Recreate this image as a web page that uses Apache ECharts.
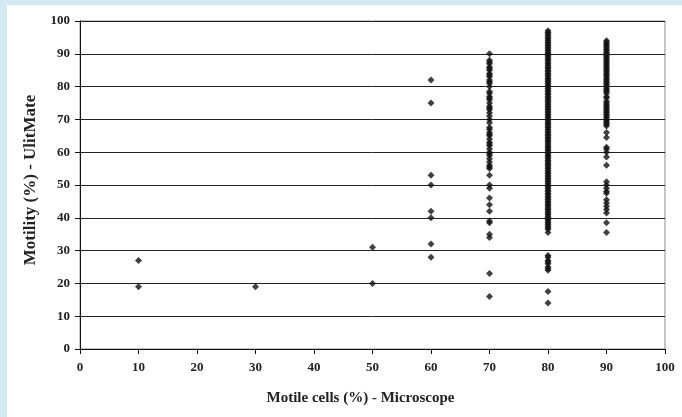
<!DOCTYPE html>
<html>
<head>
<meta charset="utf-8">
<script src="https://cdn.jsdelivr.net/npm/echarts@6/dist/echarts.min.js"></script>
<style>
html,body{margin:0;padding:0;background:#d4eaf2;}
#c{width:682px;height:417px;}
</style>
</head>
<body>
<div id="c"></div>
<script>
// Microscope motile cells (%) groups
const microscopeGroups = [10, 30, 50, 60, 70, 80, 90];
// UlitMate motility (%) readings for each group
const at10 = [27, 19];
const at30 = [19];
const at50 = [31, 20];
const at60 = [82, 75, 53, 50, 42, 40, 32, 28];
const at70 = [90, 88, 87.5, 87, 86, 85.5, 85, 84, 83.5, 83, 82, 81.5, 81, 80, 78.5, 78, 77, 76.5, 76, 75, 74, 73.5, 73, 72, 71, 70, 69, 67.5, 67, 66, 65.5, 65, 64, 63, 62.5, 62, 61, 60, 59.5, 59, 58, 57, 56, 55.5, 55, 53, 50, 49, 46, 44, 42, 39, 38.5, 35, 34, 23, 16];
const at80 = [97, 96.5, 96, 95.5, 95, 94.5, 94, 93.5, 93, 92.5, 92, 91.5, 91, 90.5, 90, 89.5, 89, 88.5, 88, 87.5, 87, 86.5, 86, 85.5, 85, 84.5, 84, 83.5, 83, 82.5, 82, 81.5, 81, 80.5, 80, 79.5, 79, 78.5, 78, 77.5, 77, 76.5, 76, 75.5, 75, 74.5, 74, 73.5, 73, 72.5, 72, 71.5, 71, 70.5, 70, 69.5, 69, 68.5, 68, 67.5, 67, 66.5, 66, 65.5, 65, 64.5, 64, 63.5, 63, 62.5, 62, 61.5, 61, 60.5, 60, 59.5, 59, 58.5, 58, 57.5, 57, 56.5, 56, 55.5, 55, 54.5, 54, 53.5, 53, 52.5, 52, 51.5, 51, 50.5, 50, 49.5, 49, 48.5, 48, 47.5, 47, 46.5, 46, 45.5, 45, 44.5, 44, 43.5, 43, 42.5, 42, 41.5, 41, 40.5, 40, 39.5, 39, 38.5, 38, 37.5, 37, 36.5, 35.5, 28.5, 28, 27, 26.5, 26, 25, 24.5, 24, 17.5, 14];
const at90 = [94, 93.5, 93, 92.5, 92, 91.5, 91, 90.5, 90, 89.5, 89, 88.5, 88, 87.5, 87, 86.5, 86, 85.5, 85, 84.5, 84, 83.5, 83, 82.5, 82, 81.5, 81, 80.5, 80, 79.5, 79, 78.5, 78, 77, 76.5, 75.5, 75, 74.5, 74, 73.5, 73, 72.5, 72, 71.5, 71, 70.5, 70, 69.5, 69, 68.5, 68, 66, 64.5, 61.5, 61, 60, 58.5, 56, 51, 50, 49, 48, 47.5, 45.5, 44.5, 43.5, 42.5, 41.5, 38.5, 35.5];
const groupValues = [at10, at30, at50, at60, at70, at80, at90];
const ticks = [0, 10, 20, 30, 40, 50, 60, 70, 80, 90, 100];

const points = [];
microscopeGroups.forEach((g, i) => groupValues[i].forEach(v => points.push([g, v])));

const chart = echarts.init(document.getElementById('c'));
const font = '"Liberation Serif", "Times New Roman", serif';
chart.setOption({
  backgroundColor: '#d4eaf2',
  animation: false,
  graphic: [{
    type: 'rect', z: -10, silent: true,
    shape: { x: 7, y: 5, width: 700, height: 420 },
    style: { fill: '#ffffff' }
  }],
  grid: { left: 80, right: 17, top: 21, bottom: 68, show: true, borderColor: '#8a8a8a', borderWidth: 1, backgroundColor: 'transparent' },
  xAxis: {
    type: 'value', min: ticks[0], max: ticks[ticks.length - 1], interval: 10,
    name: 'Motile cells (%) - Microscope', nameLocation: 'middle', nameGap: 42,
    nameTextStyle: { fontFamily: font, fontWeight: 'bold', fontSize: 15, color: '#222', padding: [0, 24, 0, 0] },
    axisLine: { lineStyle: { color: '#111', width: 1 } },
    axisTick: { show: true, length: 5, lineStyle: { color: '#111' } },
    axisLabel: { fontFamily: font, fontWeight: 'bold', fontSize: 13, color: '#222', margin: 12 },
    splitLine: { show: false }
  },
  yAxis: {
    type: 'value', min: ticks[0], max: ticks[ticks.length - 1], interval: 10,
    name: 'Motility (%) - UlitMate', nameLocation: 'middle', nameGap: 39, nameRotate: 90,
    nameTextStyle: { fontFamily: font, fontWeight: 'bold', fontSize: 17, color: '#222', padding: [0, 0, 0, 10] },
    axisLine: { show: true, lineStyle: { color: '#111', width: 1 } },
    axisTick: { show: true, length: 5, lineStyle: { color: '#111' } },
    axisLabel: { fontFamily: font, fontWeight: 'bold', fontSize: 13, color: '#222', margin: 10 },
    splitLine: { show: true, lineStyle: { color: '#222', width: 1 } }
  },
  series: [{
    type: 'scatter',
    data: points,
    symbol: 'diamond',
    symbolSize: [7, 7],
    itemStyle: { color: '#111' }
  }]
});
</script>
</body>
</html>
